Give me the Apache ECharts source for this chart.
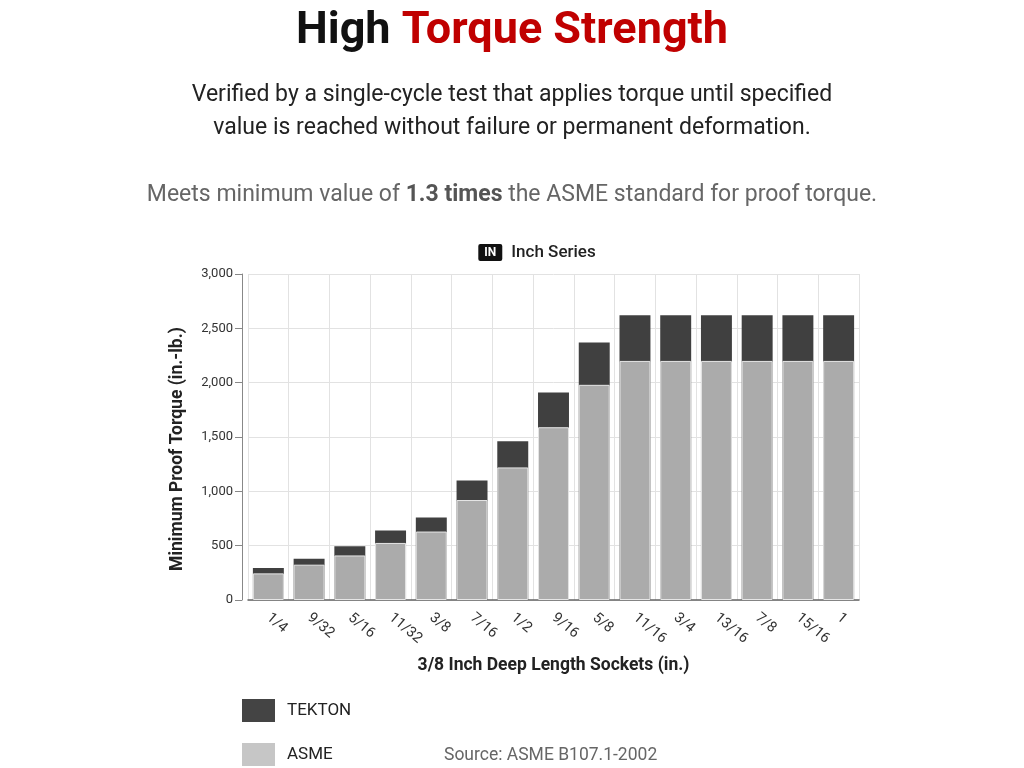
<!DOCTYPE html>
<html>
<head>
<meta charset="utf-8">
<script src="https://cdn.jsdelivr.net/npm/echarts@6/dist/echarts.min.js"></script>
<style type="text/css">
    html, body{
        margin:0;
        padding:0;
        background:#fff;
    }
    #chart{
        width:1024px;
        height:768px;
    }
</style>
</head>
<body>
<div id="chart"></div>
<script type="text/javascript">
    // socket sizes (in.)
    var sizes = ['1/4', '9/32', '5/16', '11/32', '3/8', '7/16', '1/2', '9/16', '5/8', '11/16', '3/4', '13/16', '7/8', '15/16', '1'];
    // minimum proof torque (in.-lb.)
    var tektonValues = [295, 380, 495, 640, 760, 1100, 1460, 1910, 2370, 2620, 2620, 2620, 2620, 2620, 2620];
    var asmeValues = [245, 325, 410, 525, 630, 920, 1220, 1590, 1980, 2200, 2200, 2200, 2200, 2200, 2200];
    var yTicks = [0, 500, 1000, 1500, 2000, 2500, 3000];

    var font = 'Roboto, "Noto Sans", sans-serif';
    var chart = echarts.init(document.getElementById('chart'));

    chart.setOption({
        backgroundColor: '#fff',
        textStyle: {fontFamily: font},
        animation: false,
        legend: {
            orient: 'vertical',
            left: 242,
            top: 699,
            padding: 0,
            itemWidth: 33,
            itemHeight: 23,
            itemGap: 21,
            icon: 'rect',
            textStyle: {fontSize: 17, color: '#222', padding: [3, 0, 0, 7]},
            data: [
                {name: 'TEKTON', itemStyle: {color: '#444444', borderWidth: 0}},
                {name: 'ASME', itemStyle: {color: '#c6c6c6', borderWidth: 0}}
            ]
        },
        graphic: [{
            // 标题
            type: 'text',
            x: 512,
            y: 9,
            style: {
                text: '{a|High }{b|Torque Strength}',
                textAlign: 'center',
                rich: {
                    a: {fontSize: 45, fontWeight: 'bold', fill: '#111', fontFamily: font},
                    b: {fontSize: 45, fontWeight: 'bold', fill: '#c00000', fontFamily: font}
                }
            }
        }, {
            type: 'text',
            x: 512,
            y: 79,
            style: {
                text: 'Verified by a single-cycle test that applies torque until specified\nvalue is reached without failure or permanent deformation.',
                textAlign: 'center',
                fontSize: 23,
                lineHeight: 33,
                fill: '#222',
                fontFamily: font
            }
        }, {
            type: 'text',
            x: 512,
            y: 184,
            style: {
                text: '{n|Meets minimum value of }{s|1.3 times}{n| the ASME standard for proof torque.}',
                textAlign: 'center',
                rich: {
                    n: {fontSize: 23, fontWeight: 'normal', fill: '#666', fontFamily: font},
                    s: {fontSize: 23, fontWeight: 'bold', fill: '#555', fontFamily: font}
                }
            }
        }, {
            type: 'text',
            x: 537,
            y: 244,
            style: {
                text: '{badge|IN}{gap| }{t|Inch Series}',
                textAlign: 'center',
                rich: {
                    badge: {
                        fontSize: 12, fontWeight: 'bold', fill: '#fff', backgroundColor: '#111',
                        padding: [3, 6, 2, 6], borderRadius: 2, fontFamily: font
                    },
                    gap: {fontSize: 17, width: 9},
                    t: {fontSize: 17, fontWeight: 500, fill: '#222', fontFamily: font}
                }
            }
        }, {
            type: 'text',
            left: 444,
            top: 747,
            style: {text: 'Source: ASME B107.1-2002', fontSize: 17.5, fill: '#666', fontFamily: font}
        }],
        grid: {
            left: 248,
            right: 165,
            top: 274,
            bottom: 168
        },
        xAxis: {
            type: 'category',
            data: sizes,
            name: '3/8 Inch Deep Length Sockets (in.)',
            nameLocation: 'middle',
            nameGap: 57,
            nameTextStyle: {fontSize: 17.5, fontWeight: 'bold', color: '#222'},
            axisLine: {lineStyle: {color: '#666', width: 1.5}},
            axisTick: {alignWithLabel: true, length: 6, lineStyle: {color: '#666'}},
            axisLabel: {rotate: -40, fontSize: 14.5, color: '#333', margin: 16},
            splitLine: {show: true, lineStyle: {color: '#e2e2e2'}}
        },
        yAxis: {
            type: 'value',
            offset: 6,
            min: yTicks[0],
            max: yTicks[yTicks.length - 1],
            interval: yTicks[1] - yTicks[0],
            name: 'Minimum Proof Torque (in.-lb.)',
            nameLocation: 'middle',
            nameGap: 55,
            nameTextStyle: {fontSize: 17.5, fontWeight: 'bold', color: '#222', padding: [0, 24, 0, 0]},
            axisLine: {show: true, lineStyle: {color: '#888'}},
            axisTick: {show: true, length: 7, lineStyle: {color: '#888'}},
            axisLabel: {
                fontSize: 13, color: '#333', margin: 9,
                formatter: function (v) { return v.toLocaleString('en-US'); }
            },
            splitLine: {lineStyle: {color: '#e2e2e2'}}
        },
        series: [{
            name: 'TEKTON',
            type: 'bar',
            data: tektonValues,
            barWidth: '76%',
            barGap: '-100%',
            itemStyle: {color: '#404040'}
        }, {
            name: 'ASME',
            type: 'bar',
            data: asmeValues,
            barWidth: '76%',
            itemStyle: {color: '#ababab', borderColor: '#e6e6e6', borderWidth: 1}
        }]
    });
</script>
</body>
</html>
